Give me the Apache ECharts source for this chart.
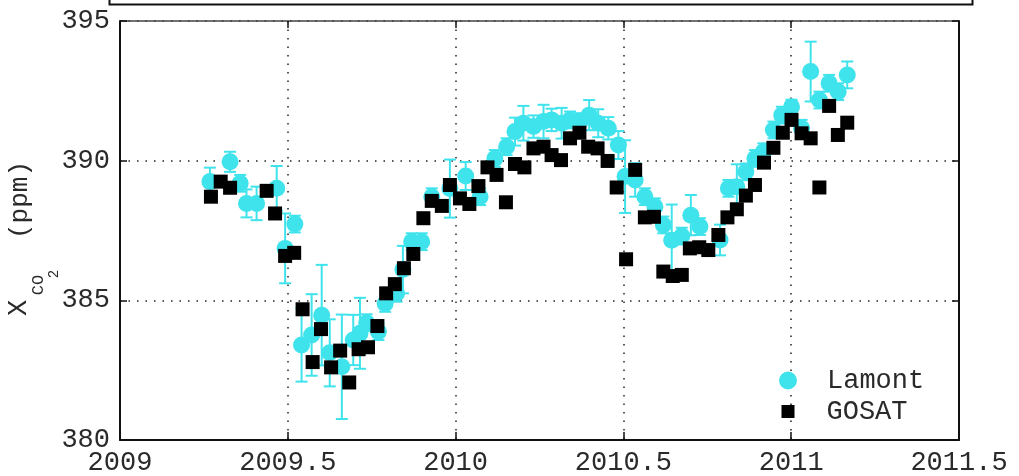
<!DOCTYPE html>
<html>
<head>
<meta charset="utf-8">
<script src="https://cdn.jsdelivr.net/npm/echarts@6/dist/echarts.min.js"></script>
<style>
html,body{margin:0;padding:0;background:#fff;}
#chart{width:1019px;height:476px;}
</style>
</head>
<body>
<div id="chart"></div>
<script>
// ---- data ----
var xTickLabels = ['2009', '2009.5', '2010', '2010.5', '2011', '2011.5'];
var yTickLabels = ['380', '385', '390', '395'];

var lamontT = [2009.268, 2009.328, 2009.358, 2009.377, 2009.407, 2009.467, 2009.492, 2009.521,
  2009.541, 2009.571, 2009.601, 2009.625, 2009.661, 2009.695, 2009.715, 2009.735, 2009.770,
  2009.790, 2009.824, 2009.843, 2009.869, 2009.899, 2009.929, 2009.983, 2010.030, 2010.073,
  2010.117, 2010.152, 2010.177, 2010.202, 2010.232, 2010.262, 2010.286, 2010.316, 2010.341,
  2010.371, 2010.398, 2010.425, 2010.455, 2010.485, 2010.505, 2010.535, 2010.564, 2010.594,
  2010.619, 2010.644, 2010.674, 2010.701, 2010.728, 2010.788, 2010.813, 2010.838, 2010.865,
  2010.892, 2010.917, 2010.947, 2010.972, 2011.001, 2011.031, 2011.058, 2011.084, 2011.113,
  2011.140, 2011.167];
var lamontV = [389.25, 389.96, 389.19, 388.47, 388.47, 389.01, 386.86, 387.73,
  383.40, 383.76, 384.47, 383.12, 382.62, 383.58, 383.82, 384.20, 383.88,
  384.89, 385.25, 386.10, 387.10, 387.10, 388.71, 389.00, 389.45, 388.71,
  390.08, 390.50, 391.04, 391.34, 391.22, 391.40, 391.46, 391.34, 391.46,
  391.40, 391.63, 391.34, 391.16, 390.56, 389.43, 389.31, 388.71, 388.35,
  387.70, 387.15, 387.30, 388.05, 387.64, 387.16, 389.01, 389.07, 389.60,
  390.08, 390.32, 391.10, 391.63, 391.93, 391.16, 393.19, 392.17, 392.77,
  392.47, 393.07];
var lamontErr = [0.50, 0.36, 0.30, 0.50, 0.60, 0.80, 1.25, 0.30,
  1.31, 1.46, 1.80, 1.20, 1.87, 0.90, 1.27, 0.30, 0.30,
  0.30, 0.30, 0.85, 0.30, 0.30, 0.30, 1.04, 0.50, 0.30,
  0.30, 0.30, 0.50, 0.62, 0.40, 0.60, 0.40, 0.55, 0.30,
  0.30, 0.54, 0.50, 0.40, 0.50, 1.30, 0.60, 0.30, 0.30,
  0.30, 1.28, 0.30, 0.72, 0.30, 0.55, 0.30, 0.80, 0.30,
  0.30, 0.30, 0.30, 0.30, 0.25, 0.30, 1.07, 0.30, 0.30,
  0.30, 0.48];

var gosatT = [2009.271, 2009.300, 2009.328, 2009.437, 2009.462, 2009.492, 2009.519, 2009.544,
  2009.574, 2009.599, 2009.629, 2009.656, 2009.683, 2009.711, 2009.739, 2009.767, 2009.793,
  2009.819, 2009.846, 2009.874, 2009.904, 2009.929, 2009.959, 2009.983, 2010.013, 2010.041,
  2010.068, 2010.095, 2010.122, 2010.150, 2010.177, 2010.205, 2010.232, 2010.262, 2010.286,
  2010.314, 2010.341, 2010.369, 2010.395, 2010.423, 2010.453, 2010.480, 2010.508, 2010.535,
  2010.564, 2010.591, 2010.619, 2010.647, 2010.674, 2010.698, 2010.726, 2010.753, 2010.783,
  2010.810, 2010.838, 2010.865, 2010.892, 2010.919, 2010.947, 2010.975, 2011.001, 2011.031,
  2011.058, 2011.084, 2011.113, 2011.139, 2011.167];
var gosatV = [388.71, 389.25, 389.03, 388.92, 388.11, 386.59, 386.70, 384.68,
  382.79, 383.97, 382.60, 383.20, 382.06, 383.25, 383.32, 384.08, 385.25,
  385.58, 386.15, 386.66, 387.94, 388.56, 388.38, 389.13, 388.65, 388.45,
  389.09, 389.76, 389.49, 388.51, 389.88, 389.76, 390.44, 390.50, 390.20,
  390.02, 390.80, 391.00, 390.50, 390.44, 389.99, 389.04, 386.47, 389.67,
  387.97, 387.99, 386.03, 385.87, 385.91, 386.86, 386.90, 386.80, 387.34,
  387.97, 388.26, 388.75, 389.13, 389.93, 390.46, 391.00, 391.46, 390.98,
  390.80, 389.04, 391.96, 390.92, 391.36];

// ---- build ----
var CYAN = '#3fe3ec';
var FONT = 'Liberation Mono';
var TXT = '#2a2a2a';
var lamontData = lamontT.map(function (t, i) { return [t, lamontV[i]]; });
var errData = lamontT.map(function (t, i) { return [t, lamontV[i] - lamontErr[i], lamontV[i] + lamontErr[i]]; });
var gosatData = gosatT.map(function (t, i) { return [t, gosatV[i]]; });

var chart = echarts.init(document.getElementById('chart'), null, {renderer: 'canvas'});

var dotted = {show: true, lineStyle: {color: '#222', width: 1.5, type: [1.5, 7]}};
var axisLine = {show: true, onZero: false, lineStyle: {color: '#111', width: 2}};
var R90 = Math.PI / 2;

var option = {
  animation: false,
  backgroundColor: '#fff',
  grid: {left: 120, right: 60, top: 21, bottom: 36, show: false, containLabel: false, outerBoundsMode: 'none'},
  xAxis: [{
    type: 'value', min: 2009, max: 2011.5, interval: 0.5, position: 'bottom',
    axisLine: axisLine,
    axisTick: {show: true, inside: true, length: 8, lineStyle: {color: '#111', width: 1.5}},
    axisLabel: {show: true, margin: 9, fontFamily: FONT, fontSize: 27, color: TXT,
      showMinLabel: true, showMaxLabel: true,
      formatter: function (v) { return xTickLabels[Math.round((v - 2009) / 0.5)]; }},
    splitLine: dotted
  }, {
    type: 'value', min: 2009, max: 2011.5, interval: 0.5, position: 'top',
    axisLine: {show: true, onZero: false, lineStyle: {color: '#444', width: 1.5}},
    axisTick: {show: true, inside: true, length: 7, lineStyle: {color: '#111', width: 1.5}},
    axisLabel: {show: false}, splitLine: {show: false}
  }],
  yAxis: [{
    type: 'value', min: 380, max: 395, interval: 5, position: 'left',
    axisLine: axisLine,
    axisTick: {show: true, inside: true, length: 7, lineStyle: {color: '#111', width: 1.5}},
    axisLabel: {show: true, margin: 10, fontFamily: FONT, fontSize: 27, color: TXT,
      showMinLabel: true, showMaxLabel: true,
      formatter: function (v) { return yTickLabels[Math.round((v - 380) / 5)]; }},
    splitLine: dotted
  }, {
    type: 'value', min: 380, max: 395, interval: 5, position: 'right',
    axisLine: {show: true, onZero: false, lineStyle: {color: '#111', width: 2}},
    axisTick: {show: true, inside: true, length: 7, lineStyle: {color: '#111', width: 1.5}},
    axisLabel: {show: false}, splitLine: {show: false}
  }],
  legend: [{
    data: [{name: 'Lamont', icon: 'circle'}], orient: 'vertical', padding: 0,
    left: 779, top: 367, itemWidth: 18, itemHeight: 18,
    textStyle: {fontFamily: FONT, fontSize: 27, color: TXT, padding: [0, 0, 0, 25]},
    selectedMode: false
  }, {
    data: [{name: 'GOSAT', icon: 'rect'}], orient: 'vertical', padding: 0,
    left: 781.5, top: 398, itemWidth: 13, itemHeight: 13,
    textStyle: {fontFamily: FONT, fontSize: 27, color: TXT, padding: [0, 0, 0, 27]},
    selectedMode: false
  }],
  graphic: [{
    type: 'rect', left: 107, top: -20, z: 100,
    shape: {x: 0, y: 0, width: 863, height: 22},
    style: {fill: 'none', stroke: '#111', lineWidth: 2}
  }, {
    type: 'text', x: 19, y: 308, rotation: R90, z: 100,
    style: {text: 'X', font: '27px "Liberation Mono"', fill: TXT, align: 'center', verticalAlign: 'middle'}
  }, {
    type: 'text', x: 38, y: 285, rotation: R90, z: 100,
    style: {text: 'CO', font: '17px "Liberation Mono"', fill: TXT, align: 'center', verticalAlign: 'middle'}
  }, {
    type: 'text', x: 54, y: 274, rotation: R90, z: 100,
    style: {text: '2', font: '14px "Liberation Mono"', fill: TXT, align: 'center', verticalAlign: 'middle'}
  }, {
    type: 'text', x: 20, y: 200, rotation: R90, z: 100,
    style: {text: '(ppm)', font: '26px "Liberation Mono"', fill: TXT, align: 'center', verticalAlign: 'middle'}
  }],
  series: [{
    name: 'err', type: 'custom', xAxisIndex: 0, yAxisIndex: 0, z: 2,
    data: errData,
    renderItem: function (params, api) {
      var lo = api.coord([api.value(0), api.value(1)]);
      var hi = api.coord([api.value(0), api.value(2)]);
      var hw = 6;
      var st = {stroke: CYAN, lineWidth: 2};
      return {type: 'group', children: [
        {type: 'line', shape: {x1: lo[0], y1: lo[1], x2: hi[0], y2: hi[1]}, style: st},
        {type: 'line', shape: {x1: lo[0] - hw, y1: lo[1], x2: lo[0] + hw, y2: lo[1]}, style: st},
        {type: 'line', shape: {x1: hi[0] - hw, y1: hi[1], x2: hi[0] + hw, y2: hi[1]}, style: st}
      ]};
    }
  }, {
    name: 'Lamont', type: 'scatter', z: 3, symbol: 'circle', symbolSize: 17,
    itemStyle: {color: CYAN, opacity: 1}, data: lamontData
  }, {
    name: 'GOSAT', type: 'scatter', z: 4, symbol: 'rect', symbolSize: 14,
    itemStyle: {color: '#000', opacity: 1}, data: gosatData
  }]
};
chart.setOption(option);
</script>
</body>
</html>
